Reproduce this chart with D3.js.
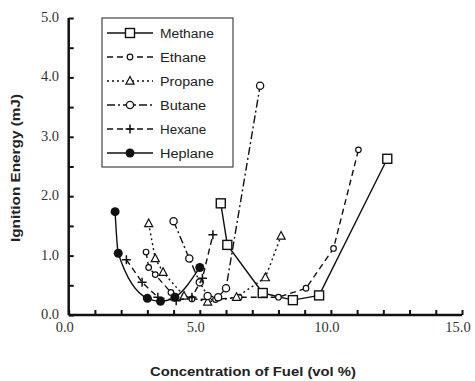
<!DOCTYPE html>
<html><head><meta charset="utf-8">
<script src="https://cdn.jsdelivr.net/npm/d3@7"></script>
<style>body{margin:0;background:#fff;}svg{display:block;}</style>
</head><body>
<script>
// Data
const seriesNames = ["Methane","Ethane","Propane","Butane","Hexane","Heplane"];
const methaneX = [5.8, 6.05, 7.4, 8.55, 9.55, 12.15];
const methaneY = [1.88, 1.18, 0.37, 0.25, 0.33, 2.63];
const ethaneX = [2.95, 3.05, 3.3, 3.9, 4.7, 5.6, 6.5, 8.0, 9.05, 10.1, 11.05];
const ethaneY = [1.06, 0.8, 0.68, 0.38, 0.27, 0.26, 0.3, 0.3, 0.45, 1.12, 2.78];
const propaneX = [3.05, 3.3, 3.6, 4.4, 5.3, 6.4, 7.5, 8.1];
const propaneY = [1.54, 0.95, 0.72, 0.32, 0.22, 0.3, 0.63, 1.33];
const butaneX = [4.0, 4.6, 5.0, 5.3, 5.7, 6.0, 7.3];
const butaneY = [1.58, 0.95, 0.55, 0.32, 0.3, 0.45, 3.86];
const hexaneX = [2.2, 2.8, 3.4, 4.1, 4.7, 5.1, 5.5];
const hexaneY = [0.93, 0.55, 0.3, 0.24, 0.3, 0.62, 1.35];
const heptaneX = [1.77, 1.89, 3.0, 3.5, 4.05, 5.0];
const heptaneY = [1.74, 1.04, 0.28, 0.23, 0.3, 0.8];
const xTickLabels = [0, 5, 10, 15];
const yTickLabels = [0, 1, 2, 3, 4, 5];

const W = 475, H = 381;
const svg = d3.select("body").append("svg").attr("width", W).attr("height", H);
const x = d3.scaleLinear().domain([0, 15]).range([68.7, 462]);
const y = d3.scaleLinear().domain([0, 5]).range([315, 18]);

const series = [
  {name: seriesNames[0], xs: methaneX, ys: methaneY, dash: null, marker: "square", curve: d3.curveLinear},
  {name: seriesNames[1], xs: ethaneX, ys: ethaneY, dash: "6,4", marker: "smallcircle", curve: d3.curveLinear},
  {name: seriesNames[2], xs: propaneX, ys: propaneY, dash: "2,3", marker: "triangle", curve: d3.curveLinear},
  {name: seriesNames[3], xs: butaneX, ys: butaneY, dash: "8,3,2,3", marker: "circle", curve: d3.curveLinear},
  {name: seriesNames[4], xs: hexaneX, ys: hexaneY, dash: "6,4", marker: "plus", curve: d3.curveLinear},
  {name: seriesNames[5], xs: heptaneX, ys: heptaneY, dash: null, marker: "filled", curve: d3.curveMonotoneX}
];

function drawMarker(g, type, cx, cy) {
  if (type === "square") {
    g.append("rect").attr("x", cx - 4.5).attr("y", cy - 4.5).attr("width", 9).attr("height", 9)
      .attr("fill", "#fff").attr("stroke", "#111").attr("stroke-width", 1.4);
  } else if (type === "smallcircle") {
    g.append("circle").attr("cx", cx).attr("cy", cy).attr("r", 2.8)
      .attr("fill", "#fff").attr("stroke", "#111").attr("stroke-width", 1.2);
  } else if (type === "triangle") {
    const s = 4.5;
    g.append("path").attr("d", `M${cx},${cy - s}L${cx + s * 0.9},${cy + s * 0.7}L${cx - s * 0.9},${cy + s * 0.7}Z`)
      .attr("fill", "#fff").attr("stroke", "#111").attr("stroke-width", 1.2);
  } else if (type === "circle") {
    g.append("circle").attr("cx", cx).attr("cy", cy).attr("r", 3.6)
      .attr("fill", "#fff").attr("stroke", "#111").attr("stroke-width", 1.3);
  } else if (type === "plus") {
    g.append("path").attr("d", `M${cx - 4.5},${cy}H${cx + 4.5}M${cx},${cy - 4.5}V${cy + 4.5}`)
      .attr("stroke", "#111").attr("stroke-width", 1.5);
  } else if (type === "filled") {
    g.append("circle").attr("cx", cx).attr("cy", cy).attr("r", 4.5).attr("fill", "#111");
  }
}

// series
const plot = svg.append("g");
series.forEach(s => {
  const pts = s.xs.map((v, i) => [v, s.ys[i]]);
  const line = d3.line().x(d => x(d[0])).y(d => y(d[1])).curve(s.curve);
  plot.append("path").datum(pts).attr("d", line).attr("fill", "none")
    .attr("stroke", "#111").attr("stroke-width", 1.4)
    .attr("stroke-dasharray", s.dash);
  pts.forEach(p => drawMarker(plot, s.marker, x(p[0]), y(p[1])));
});

// axes
const ax = svg.append("g");
const xAxis = d3.axisBottom(x).tickValues(d3.range(0, 16, 1)).tickSize(-5).tickFormat("");
const yAxis = d3.axisLeft(y).tickValues(d3.range(0, 5.01, 0.5)).tickSize(-5).tickFormat("");
const gx = ax.append("g").attr("transform", `translate(0,${y(0)})`).call(xAxis);
const gy = ax.append("g").attr("transform", `translate(${x(0)},0)`).call(yAxis);
[gx, gy].forEach(g => {
  g.select(".domain").attr("stroke", "#111").attr("stroke-width", 2.5);
  g.selectAll(".tick line").attr("stroke", "#111").attr("stroke-width", 2);
});
gy.select(".domain").attr("d", `M0,${y(5)}V${y(0)}`);
gx.select(".domain").attr("d", `M${x(0)},0H${x(15)}`);

ax.selectAll(".xl").data(xTickLabels).enter().append("text")
  .attr("x", d => x(d) - 4).attr("y", 332).attr("text-anchor", "middle")
  .attr("font-family", "Liberation Serif").attr("font-size", 14.5).attr("fill", "#333")
  .text(d => d.toFixed(1));
ax.selectAll(".yl").data(yTickLabels).enter().append("text")
  .attr("x", 59).attr("y", d => y(d) + 4).attr("text-anchor", "end")
  .attr("font-family", "Liberation Serif").attr("font-size", 14.5).attr("fill", "#333")
  .text(d => d.toFixed(1));

svg.append("text").attr("x", 253).attr("y", 376).attr("text-anchor", "middle")
  .attr("font-family", "Liberation Sans").attr("font-weight", "bold").attr("font-size", 12)
  .attr("fill", "#222").attr("textLength", 206).attr("lengthAdjust", "spacingAndGlyphs")
  .text("Concentration of Fuel (vol %)");
svg.append("text").attr("transform", "translate(20,168) rotate(-90)").attr("text-anchor", "middle")
  .attr("font-family", "Liberation Sans").attr("font-weight", "bold").attr("font-size", 12)
  .attr("fill", "#222").attr("textLength", 148).attr("lengthAdjust", "spacingAndGlyphs")
  .text("Ignition Energy (mJ)");

// legend
const lg = svg.append("g");
lg.append("rect").attr("x", 102).attr("y", 18).attr("width", 131).attr("height", 149)
  .attr("fill", "#fff").attr("stroke", "#444").attr("stroke-width", 1.2);
series.forEach((s, i) => {
  const ly = 33 + i * 24;
  lg.append("line").attr("x1", 107).attr("x2", 153).attr("y1", ly).attr("y2", ly)
    .attr("stroke", "#111").attr("stroke-width", 1.4).attr("stroke-dasharray", s.dash);
  drawMarker(lg, s.marker, 130, ly);
  lg.append("text").attr("x", 160).attr("y", ly + 4.5)
    .attr("font-family", "Liberation Sans").attr("font-size", 12.5).attr("fill", "#222")
    .attr("textLength", s.name.length * 7.7).attr("lengthAdjust", "spacingAndGlyphs")
    .text(s.name);
});
</script>
</body></html>
